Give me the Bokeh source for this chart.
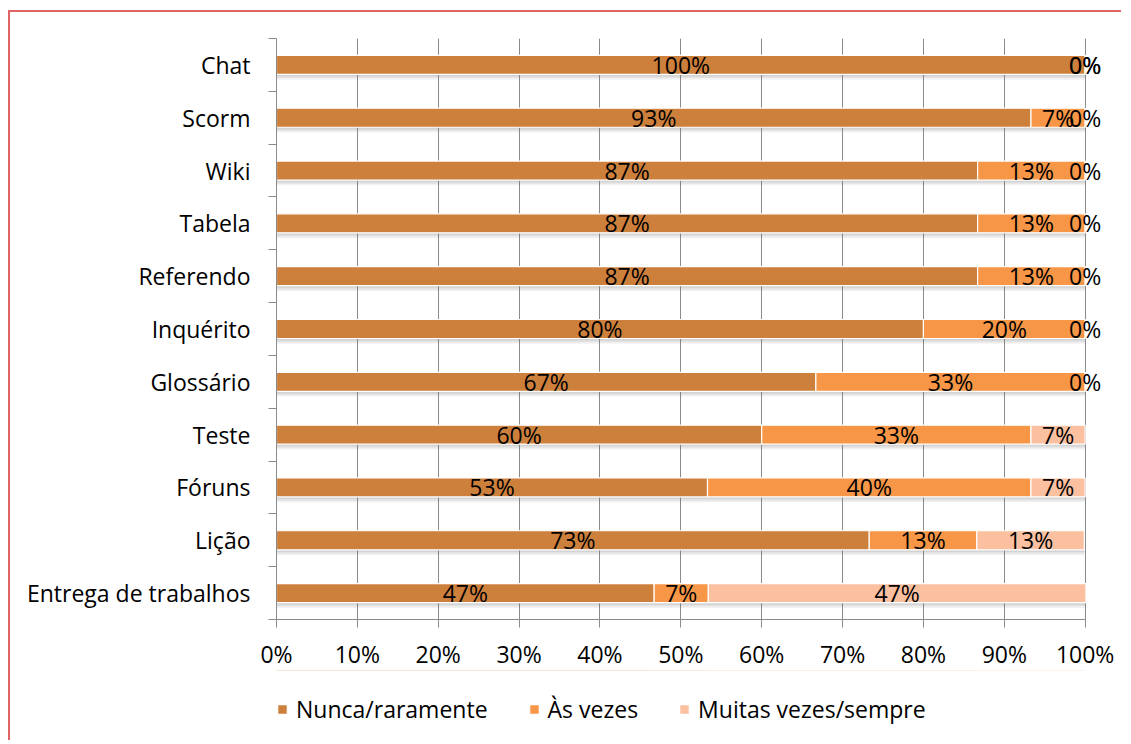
from bokeh.plotting import figure
from bokeh.models import ColumnDataSource, FixedTicker, Legend, LegendItem
from bokeh.layouts import column
from bokeh.core.properties import value
from bokeh.embed import file_html
from bokeh.resources import INLINE

categories = ["Entrega de trabalhos", "Lição", "Fóruns", "Teste", "Glossário",
              "Inquérito", "Referendo", "Tabela", "Wiki", "Scorm", "Chat"]
nunca = [46.7, 73.3, 53.3, 60.0, 66.7, 80.0, 86.7, 86.7, 86.7, 93.3, 100.0]
as_vezes = [6.7, 13.3, 40.0, 33.3, 33.3, 20.0, 13.3, 13.3, 13.3, 6.7, 0.0]
muitas = [46.7, 13.3, 6.7, 6.7, 0.0, 0.0, 0.0, 0.0, 0.0, 0.0, 0.0]
series_names = ["Nunca/raramente", "Às vezes", "Muitas vezes/sempre"]
colors = ["#CD7F3C", "#F79646", "#FAC0A0"]
x_ticks = [0, 10, 20, 30, 40, 50, 60, 70, 80, 90, 100]
x_tick_labels = ["0%", "10%", "20%", "30%", "40%", "50%", "60%", "70%", "80%", "90%", "100%"]

FONT = "Open Sans"
FS = "23px"
GRAY = "#8a8a8a"
BORDER = "2px solid #e06464"

n = len(categories)
ys = [i + 0.5 for i in range(n)]
series = [nunca, as_vezes, muitas]

p = figure(frame_width=839, frame_height=579, output_backend="svg", toolbar_location=None,
           x_range=(0, 104), y_range=(0, n),
           min_border_left=266, min_border_right=6, min_border_top=26, min_border_bottom=0)
p.margin = (10, 0, 0, 8)
p.styles = {"border-top": BORDER, "border-left": BORDER}
p.outline_line_color = None
p.background_fill_color = "white"

# grid
p.xgrid.ticker = FixedTicker(ticks=x_ticks)
p.xgrid.grid_line_color = GRAY
p.xgrid.grid_line_width = 1
p.ygrid.grid_line_color = None

# x axis
xa = p.xaxis[0]
xa.ticker = FixedTicker(ticks=x_ticks)
xa.bounds = (0, 100)
xa.major_label_overrides = {t: l for t, l in zip(x_ticks, x_tick_labels)}
xa.axis_line_color = GRAY
xa.major_tick_line_color = GRAY
xa.major_tick_out = 8
xa.major_tick_in = 0
xa.minor_tick_line_color = None
xa.major_label_standoff = 10
xa.major_label_text_font = FONT
xa.major_label_text_font_size = FS
xa.major_label_text_color = "black"

# y axis
ya = p.yaxis[0]
ya.ticker = FixedTicker(ticks=ys, minor_ticks=list(range(n + 1)))
ya.major_label_overrides = {y: c for y, c in zip(ys, categories)}
ya.axis_line_color = GRAY
ya.major_tick_line_color = None
ya.major_tick_out = 0
ya.major_tick_in = 0
ya.minor_tick_line_color = GRAY
ya.minor_tick_out = 8
ya.minor_tick_in = 0
ya.major_label_standoff = 18
ya.major_label_text_font = FONT
ya.major_label_text_font_size = FS
ya.major_label_text_color = "black"

H = 0.36
totals = [a + b + c for a, b, c in zip(nunca, as_vezes, muitas)]
# soft shadow
for off, alpha in [(0.10, 0.10), (0.07, 0.12), (0.04, 0.14)]:
    p.hbar(y=[y - off for y in ys], left=0, right=totals, height=H,
           fill_color="#7a7a7a", fill_alpha=alpha, line_color=None)

sources = []
lefts = [0.0] * n
lx, ly, lt = [], [], []
for vals, col in zip(series, colors):
    rights = [l + v for l, v in zip(lefts, vals)]
    src = ColumnDataSource(dict(y=ys, left=lefts, right=rights))
    sources.append(src)
    p.hbar(y="y", left="left", right="right", height=H, source=src,
           fill_color=col, line_color="white", line_width=1.2)
    for y, l, v in zip(ys, lefts, vals):
        lx.append(l + v / 2.0)
        ly.append(y)
        lt.append(f"{round(v):d}%")
    lefts = rights

lsrc = ColumnDataSource(dict(x=lx, y=ly, t=lt))
p.text(x="x", y="y", text="t", source=lsrc, text_align="center", text_baseline="middle",
       text_font=value(FONT), text_font_size=FS, text_color="black")

# legend strip below the chart (its series share the chart's data, kept out of view)
q = figure(width=1113, height=70, output_backend="svg", toolbar_location=None,
           x_axis_type=None, y_axis_type=None, min_border=0,
           x_range=(0, 104), y_range=(-20, -19))
q.margin = (0, 0, 0, 8)
q.styles = {"border-left": BORDER}
q.outline_line_color = None
q.xgrid.visible = False
q.ygrid.visible = False
leg_renderers = []
for src, col in zip(sources, colors):
    leg_renderers.append(q.hbar(y="y", left="left", right="right", height=H, source=src,
                                fill_color=col, line_color="white", line_width=1.2))

legend = Legend(items=[LegendItem(label=nm, renderers=[r]) for nm, r in zip(series_names, leg_renderers)],
                orientation="horizontal", location=(0, 15),
                glyph_width=12, glyph_height=12, label_standoff=8, spacing=40,
                padding=0, margin=0, border_line_color=None, background_fill_alpha=0,
                label_text_font=FONT, label_text_font_size=FS, label_text_color="black")
q.add_layout(legend, "center")

layout = column(p, q, spacing=0)
open("out.html", "w").write(file_html(layout, INLINE))
